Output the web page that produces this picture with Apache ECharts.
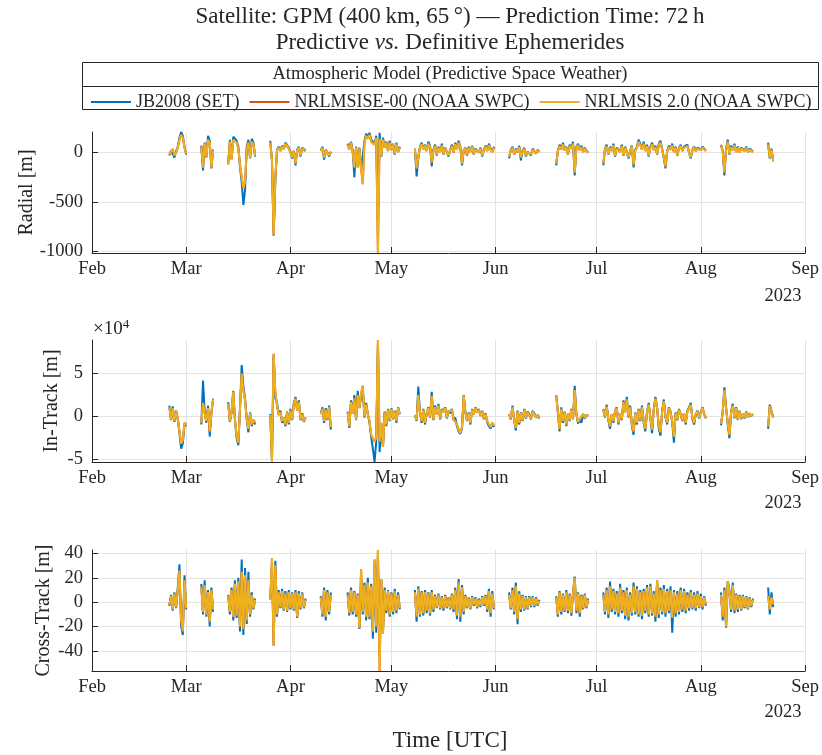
<!DOCTYPE html>
<html><head><meta charset="utf-8">
<script src="https://cdn.jsdelivr.net/npm/echarts@6/dist/echarts.min.js"></script>
<style>html,body{margin:0;padding:0;background:#fff}#c{width:822px;height:755px}</style>
</head><body><div id="c"></div>
<script>
const monthLabels = ['Feb','Mar','Apr','May','Jun','Jul','Aug','Sep'];
const seriesNames = ['JB2008 (SET)','NRLMSISE-00 (NOAA SWPC)','NRLMSIS 2.0 (NOAA SWPC)'];
// segment start, in days after 1 Feb 2023; samples every half day
const segStartDays = [23, 32.5, 40.5, 53, 68, 76, 96, 124, 138, 152, 187, 201];
const stepDays = 0.5;

// Radial [m]
const radialJB2008 = [
 [-30, 20, 40, -50, 10, 60, 150, 208, 170, 60, -20],
 [70, -180, 100, -50, 170, 120, -160, 30],
 [-100, 130, -60, 160, 150, 120, 60, -150, -300, -530, -380, 60, 130, -60, 140, 100, -40],
 [120, -90, -840, -290, 30, 60, 20, 70, 40, 100, 80, 50, 10, -60, 20, -130, 30, 60, -40, 50, 40, 20],
 [20, 60, -70, 30, 50, -40, 10],
 [90, 40, 110, 20, -250, 60, -130, 50, -180, -200, 120, 190, 160, 200, 130, 150, 90, 170, -700, 200, -40, 150, 60, 110, 20, 120, 30, 90, -20, 100, 10, 60],
 [40, -240, -60, 60, 100, 40, 80, 20, 110, 70, -140, 30, 80, -30, 60, 10, 90, -20, 50, 70, -40, 30, 80, 0, 100, 40, 120, 60, -130, 20, 50, -30, 60, 10, 70, -20, 40, 60, 0, 50, -40, 30, 70, 20, 90, 40, 10, 60],
 [-60, 30, 60, -20, 40, 0, 70, -80, 20, 50, -40, 10, 30, -30, 40, 20, -10, 30, 10],
 [-130, 20, 80, 40, 100, 30, 60, -20, 80, 50, 110, -230, 60, 90, 30, 70, 10, 50, 20, 0],
 [-130, 40, 80, -20, 60, 20, 90, -40, 50, 70, 10, 80, -30, 60, 40, -60, 20, 70, -150, 30, 60, 130, 90, 40, 110, 20, 80, -40, 60, 100, 30, 70, -20, 90, 120, 40, -60, -160, 20, 70, 40, 90, 10, 60, -30, 50, 80, 20, 60, 40, 80, 0, -60, 30, 60, 20, 50, 70, 30, 60, 40, 20],
 [80, 20, -230, 40, 130, -20, 70, 30, 90, 10, 60, 0, 50, 70, 20, 60, 10, 40, 20, 10],
 [100, -60, 40, -80]
];
const radialNRLMSIS20 = [
 [-20, 10, 35, -30, 5, 50, 130, 180, 150, 50, -10],
 [60, -150, 90, -40, 130, 100, -150, 20],
 [-120, 110, -70, 130, 120, 100, 40, -120, -250, -360, -300, 40, 100, -50, 110, 80, -30],
 [100, -70, -830, -250, 20, 50, 15, 60, 35, 90, 70, 40, 0, -50, 15, -110, 25, 50, -30, 40, 35, 15],
 [15, 50, -50, 25, 40, -30, 5],
 [80, 30, 100, 10, -150, 50, -150, 40, -160, -320, 100, 170, 140, 180, 110, 130, 80, 150, -1015, 140, -30, 130, 50, 100, 15, 100, 25, 80, -10, 90, 5, 50],
 [35, -160, -40, 50, 85, 30, 70, 15, 90, 60, -100, 25, 65, -20, 50, 5, 75, -15, 40, 60, -30, 25, 65, 0, 85, 30, 100, 50, -110, 15, 40, -20, 50, 5, 60, -15, 30, 50, 0, 40, -30, 25, 60, 15, 75, 30, 5, 50],
 [-40, 20, 50, -15, 30, 0, 55, -50, 15, 40, -30, 5, 25, -20, 30, 15, -5, 25, 5],
 [-110, 15, 65, 30, 85, 25, 50, -15, 65, 40, 90, -200, 50, 75, 25, 55, 5, 40, 15, 0],
 [-110, 30, 65, -15, 50, 15, 75, -30, 40, 60, 5, 65, -25, 50, 30, -50, 15, 60, -120, 25, 50, 110, 75, 30, 90, 15, 65, -30, 50, 85, 25, 55, -15, 75, 100, 30, -50, -140, 15, 55, 30, 75, 5, 50, -25, 40, 65, 15, 50, 30, 65, 0, -50, 25, 50, 15, 40, 55, 25, 50, 30, 15],
 [70, 15, -200, 30, 110, -15, 55, 25, 75, 5, 50, 0, 40, 55, 15, 50, 5, 30, 15, 5],
 [80, -50, 30, -90]
];
const radialNRLMSISE00 = radialNRLMSIS20;

// In-Track [x 10^4 m]
const inTrackJB2008 = [
 [1.2, -0.5, 1.1, -0.7, 0.6, -0.4, -2.0, -3.8, -3.2, -1.0, -1.2],
 [-1.0, 4.1, 0.5, -0.8, 1.2, -2.4, 0.3, 2.0],
 [1.6, -0.7, 0.5, 2.9, -0.5, -2.6, -3.4, 1.0, 5.9, 3.5, 2.0, -0.4, -1.9, 0.4, -1.2, -0.5, -1.0],
 [0.2, -5.0, 7.0, 2.0, 1.5, 0.2, 0.6, -0.8, -0.3, -1.2, 0.5, -1.0, 0.8, -0.5, 1.5, 2.2, 0.8, 1.8, -0.5, 0.3, -0.7, -0.2],
 [0.3, 1.0, -0.8, 0.9, -0.5, 1.2, -1.6],
 [0.5, -1.4, 1.8, 0.3, 2.4, -0.5, 2.9, 1.0, 2.2, 3.0, -0.2, 1.5, 0.2, -0.8, -2.5, -3.8, -5.35, -3.0, 8.2, -4.2, -1.0, -3.6, 0.5, -1.2, 0.8, -0.6, 0.9, -0.4, 0.6, -0.8, 1.0, 0.2],
 [0.1, -0.6, 3.4, 0.5, -0.8, 0.8, -1.0, 0.3, 1.0, -0.2, 2.8, -0.5, 1.2, 0.2, 1.4, -0.4, 0.8, 0.5, 1.0, -0.3, 0.6, 0.3, 0.8, -0.5, -0.2, -1.2, -1.8, -2.1, -1.5, 2.4, 0.5, -0.6, 0.4, -1.0, 0.8, 0.2, 1.0, 0.5, 0.8, 0.0, 0.6, -0.4, 0.3, -0.8, -1.2, -1.5, -0.9, -1.3],
 [0.2, -0.4, 1.2, -0.5, -1.7, 0.6, -1.0, 0.4, -0.6, 0.8, -0.3, 0.5, 0.2, -0.4, 0.6, 0.3, -0.2, 0.1, -0.3],
 [2.4, 0.5, -1.8, 1.0, -0.8, 0.5, -1.2, 0.3, -0.6, 0.8, -0.4, 3.5, 0.2, -0.9, -0.5, -0.8, 0.2, -0.3, 0.1, 0.0],
 [0.8, -0.2, 1.3, -0.5, -1.5, 0.2, -0.8, 0.6, 1.0, -1.0, 0.3, -0.5, 1.8, 0.5, 2.2, -0.2, 1.2, -1.2, -2.2, 0.4, -1.0, 0.8, -0.6, 1.2, -0.8, -1.8, 0.5, 1.5, -0.3, -2.0, 0.8, 2.2, 1.0, -1.5, -2.3, 0.6, 1.9, -0.2, -1.0, 1.0, 0.5, -0.8, -3.1, 0.4, -0.5, 0.8, 0.2, -0.6, 0.3, -1.0, 0.6, 1.0, 1.5, -0.4, -1.0, 0.2, 0.6, -0.3, 0.5, 1.0, 0.2, -0.3],
 [-1.1, 0.5, 3.3, 1.0, -1.0, -2.6, 0.5, 1.4, -0.3, 1.0, -0.5, 0.6, -0.4, 0.3, -0.3, 0.5, -0.2, 0.3, 0.0, 0.2],
 [-1.5, 1.3, 0.6, -0.2]
];
const inTrackNRLMSIS20 = [
 [1.0, -0.4, 0.9, -0.6, 0.5, -0.3, -1.8, -3.2, -2.8, -0.8, -1.0],
 [-0.8, 1.5, 0.3, -0.6, 0.9, -1.8, 0.4, 1.9],
 [1.4, -0.6, 0.4, 2.8, -0.4, -2.3, -3.1, 0.8, 4.9, 3.0, 1.8, -0.3, -1.5, 0.3, -1.0, -0.4, -0.8],
 [0.1, -5.3, 7.2, 2.8, 1.2, 0.1, 0.4, -0.6, -0.2, -1.0, 0.4, -0.8, 0.6, -0.4, 1.3, 2.0, 0.6, 1.6, -0.4, 0.2, -0.6, -0.2],
 [0.2, 0.8, -0.6, 0.7, -0.4, 1.0, -1.3],
 [0.4, -1.2, 1.6, 0.3, 2.0, -0.4, 2.4, 0.9, 2.6, 3.5, -0.1, 1.3, 0.2, -0.6, -2.2, -2.6, -3.0, -2.5, 8.8, -3.0, -0.8, -3.6, 0.4, -1.0, 0.7, -0.5, 0.8, -0.3, 0.5, -0.6, 0.9, 0.2],
 [0.1, -0.5, 2.4, 0.4, -0.6, 0.7, -0.8, 0.3, 0.9, -0.1, 2.3, -0.4, 1.0, 0.2, 1.2, -0.3, 0.7, 0.4, 0.9, -0.2, 0.5, 0.3, 0.7, -0.4, -0.2, -1.0, -1.6, -2.0, -1.3, 2.3, 0.4, -0.5, 0.3, -0.8, 0.7, 0.2, 0.9, 0.4, 0.7, 0.0, 0.5, -0.3, 0.2, -0.6, -1.0, -1.3, -0.8, -1.1],
 [0.2, -0.3, 1.0, -0.4, -1.4, 0.5, -0.8, 0.3, -0.5, 0.7, -0.2, 0.4, 0.2, -0.3, 0.5, 0.3, -0.2, 0.1, -0.2],
 [2.4, 0.4, -1.5, 0.8, -0.6, 0.4, -1.0, 0.3, -0.5, 0.7, -0.3, 3.0, 0.2, -0.7, -0.4, -0.6, 0.2, -0.2, 0.1, 0.0],
 [0.7, -0.1, 1.1, -0.4, -1.2, 0.2, -0.6, 0.5, 0.9, -0.8, 0.3, -0.4, 1.6, 0.4, 1.9, -0.1, 1.0, -1.0, -1.8, 0.3, -0.8, 0.7, -0.5, 1.0, -0.6, -1.5, 0.4, 1.3, -0.2, -1.6, 0.7, 2.0, 0.9, -1.2, -1.9, 0.5, 1.7, -0.1, -0.8, 0.9, 0.4, -0.6, -2.4, 0.3, -0.4, 0.7, 0.2, -0.5, 0.3, -0.8, 0.5, 0.9, 1.3, -0.3, -0.8, 0.2, 0.5, -0.2, 0.4, 0.9, 0.2, -0.2],
 [-0.9, 0.4, 3.0, 0.9, -0.8, -2.2, 0.4, 1.2, -0.2, 0.9, -0.4, 0.5, -0.3, 0.3, -0.2, 0.4, -0.2, 0.3, 0.0, 0.2],
 [-1.2, 1.1, 0.5, -0.1]
];
const inTrackNRLMSISE00 = inTrackNRLMSIS20;

// Cross-Track [m]
const crossTrackJB2008 = [
 [-3, 6, -7, 8, -5, 12, 31, -20, -27, 22, -6],
 [15, -10, 18, -12, 10, -20, 12, -8],
 [6, -10, 12, -15, 18, -13, 20, -24, 35, -27, 28, -18, 25, -12, 8, -6, 3],
 [3, 30, -35, 34, -12, 10, -5, 11, -7, 9, -8, 10, -6, 8, -7, 10, -13, 9, -6, 8, -5, 3],
 [5, -12, 12, -15, 10, -10, 8],
 [8, -11, 12, -10, 9, -12, 7, -22, 18, -10, 16, -15, 20, -14, 15, -30, 32, -25, 38, -45, 18, -24, 12, -9, 10, -12, 8, -10, 11, -9, 8, -6],
 [10, -16, 13, -12, 9, -11, 10, -9, 8, -11, 10, -8, 6, -5, 7, -6, 5, -7, 6, -5, 4, -6, 7, -8, 12, -14, 19, -16, 14, -10, 6, -5, 4, -6, 5, -3, 4, -5, 3, -4, 5, -3, 6, -8, 11, -12, 9, -6],
 [8, -6, 12, -10, 16, -18, 9, -8, 6, -7, 5, -6, 5, -4, 5, -4, 4, -3, 2],
 [5, -12, 9, -10, 7, -8, 10, -9, 7, -11, 8, 21, -9, 8, -12, 6, -6, 7, -5, 3],
 [8, -10, 12, -13, 17, -8, 11, -10, 9, -12, 15, -9, 10, -14, 12, -15, 8, -11, 16, -10, 13, -12, 10, -14, 11, -9, 14, -12, 15, -11, 9, -16, 17, -13, 12, -10, 14, -12, 11, -9, 13, -25, 10, -12, 9, -10, 12, -8, 11, -9, 8, -7, 10, -6, 8, -7, 9, -5, 7, -6, 5, -3],
 [8, -15, 12, -21, 17, 10, -8, 16, -9, 7, -8, 6, -7, 6, -5, 5, -6, 4, -4, 3],
 [12, -10, 8, -4]
];
const crossTrackNRLMSIS20 = [
 [-2, 5, -6, 7, -4, 10, 26, -15, -24, 18, -5],
 [12, -8, 14, -10, 8, -16, 10, -6],
 [5, -8, 10, -12, 15, -11, 17, -20, 25, -22, 22, -15, 18, -10, 6, -5, 2],
 [2, 36, -36, 30, -10, 8, -4, 9, -6, 7, -7, 8, -5, 7, -6, 8, -12, 7, -5, 7, -4, 2],
 [4, -10, 10, -12, 8, -8, 6],
 [6, -9, 10, -8, 8, -10, 6, -21, 27, -8, 14, -12, 16, -12, 13, -24, 35, -20, 42.8, -56.5, 19, -26, 10, -7, 9, -10, 7, -8, 9, -7, 6, -5],
 [8, -12, 11, -10, 8, -9, 8, -7, 7, -9, 8, -6, 5, -4, 6, -5, 4, -5, 5, -4, 3, -5, 6, -6, 10, -11, 16, -12, 12, -8, 5, -4, 3, -5, 4, -2, 3, -4, 2, -3, 4, -2, 5, -6, 9, -9, 7, -5],
 [6, -5, 10, -8, 13, -14, 7, -6, 5, -6, 4, -5, 4, -3, 4, -3, 3, -2, 1],
 [4, -10, 8, -8, 6, -7, 8, -7, 6, -9, 7, 20, -7, 7, -9, 5, -5, 6, -4, 2],
 [6, -8, 10, -10, 13, -6, 9, -8, 7, -9, 12, -7, 8, -11, 10, -12, 6, -9, 13, -8, 11, -10, 8, -11, 9, -7, 12, -10, 13, -9, 7, -12, 18, -10, 10, -8, 11, -9, 9, -7, 10, -13, 8, -9, 7, -8, 10, -6, 9, -7, 6, -5, 8, -5, 6, -5, 7, -4, 5, -4, 4, -2],
 [6, -12, 10, -20, 17, 8, -6, 14, -7, 6, -6, 5, -6, 5, -4, 4, -5, 3, -3, 2],
 [5, -6, 4, -2]
];
const crossTrackNRLMSISE00 = crossTrackNRLMSIS20;

const radialTicks = [-1000, -500, 0];
const inTrackTicks = [-5, 0, 5];
const crossTrackTicks = [-40, -20, 0, 20, 40];

const DAY = 86400000;
const T0 = Date.UTC(2023, 1, 1);
const monthTicks = monthLabels.map((m, i) => Date.UTC(2023, 1 + i, 1));

function build(segs) {
  const out = [];
  segs.forEach((seg, k) => {
    if (k > 0) out.push([T0 + (segStartDays[k] - 0.25) * DAY, '-']);
    seg.forEach((v, i) => out.push([T0 + (segStartDays[k] + i * stepDays) * DAY, v]));
  });
  return out;
}

const FONT = '"Liberation Serif", "DejaVu Serif", serif';
const TXT = '#262626';
const colors = ['#0072BD', '#D95319', '#EDB120'];

const grids = [
  {left: 92, right: 14.5, top: 132, height: 121},
  {left: 92, right: 14.5, top: 340, height: 122},
  {left: 92, right: 14.5, top: 550, height: 121}
];

function xAx(i) {
  return {
    type: 'value', gridIndex: i, min: T0, max: Date.UTC(2023, 8, 1),
    axisLine: {show: true, onZero: false, lineStyle: {color: TXT, width: 1}},
    axisTick: {show: true, inside: true, length: 6, lineStyle: {color: TXT}, customValues: monthTicks},
    axisLabel: {customValues: monthTicks, color: TXT, fontFamily: FONT, fontSize: 18.5, margin: 7,
      formatter: v => monthLabels[new Date(v).getUTCMonth() - 1]},
    splitLine: {show: true, lineStyle: {color: '#e3e3e3', width: 1}}
  };
}
function yAx(i, min, max, ticks, name, gap) {
  return {
    type: 'value', gridIndex: i, min: min, max: max,
    name: name, nameLocation: 'middle', nameGap: gap, nameMoveOverlap: false,
    nameTextStyle: {fontFamily: FONT, fontSize: 20, color: TXT},
    axisLine: {show: true, lineStyle: {color: TXT, width: 1}},
    axisTick: {show: true, inside: true, length: 6, lineStyle: {color: TXT}, customValues: ticks},
    axisLabel: {customValues: ticks, color: TXT, fontFamily: FONT, fontSize: 18.5, margin: 9,
      formatter: v => String(v)},
    splitLine: {show: true, lineStyle: {color: '#e3e3e3', width: 1}}
  };
}

const panels = [
  [radialJB2008, radialNRLMSISE00, radialNRLMSIS20],
  [inTrackJB2008, inTrackNRLMSISE00, inTrackNRLMSIS20],
  [crossTrackJB2008, crossTrackNRLMSISE00, crossTrackNRLMSIS20]
];
const series = [];
panels.forEach((p, gi) => {
  p.forEach((segs, si) => {
    series.push({
      type: 'line', name: seriesNames[si], xAxisIndex: gi, yAxisIndex: gi,
      data: build(segs), showSymbol: false, symbol: 'none', connectNulls: false,
      lineStyle: {color: colors[si], width: 2}, itemStyle: {color: colors[si]},
      emphasis: {disabled: true}, z: 2 + si
    });
  });
});

function txt(x, y, text, size) {
  return {type: 'text', x: x, y: y, silent: true,
    style: {text: text, font: size + 'px ' + FONT, fill: TXT,
      align: 'center', verticalAlign: 'middle', textAlign: 'center', textVerticalAlign: 'middle'}};
}

const chart = echarts.init(document.getElementById('c'), null, {renderer: 'canvas'});
chart.setOption({
  animation: false,
  backgroundColor: '#fff',
  grid: grids,
  xAxis: [xAx(0), xAx(1), xAx(2)],
  yAxis: [
    yAx(0, -1015, 208, radialTicks, 'Radial [m]', 55),
    yAx(1, -5.35, 8.8, inTrackTicks, 'In-Track [m]', 30),
    yAx(2, -56.5, 42.8, crossTrackTicks, 'Cross-Track [m]', 38)
  ],
  legend: {
    data: seriesNames, left: 86, top: 88, icon: 'rect', itemWidth: 40, itemHeight: 2, itemGap: 10,
    textStyle: {fontFamily: FONT, fontSize: 18, color: TXT}, selectedMode: false
  },
  graphic: [
    txt(450, 17, 'Satellite: GPM (400\u2009km, 65\u2009\u00b0) \u2014 Prediction Time: 72\u2009h', 23),
    {type: 'text', x: 450, y: 43, silent: true, style: {
      text: '{a|Predictive }{i|vs.}{a| Definitive Ephemerides}',
      rich: {a: {fontFamily: FONT, fontSize: 23, fill: TXT, color: TXT}, i: {fontFamily: FONT, fontSize: 23, fontStyle: 'italic', fill: TXT, color: TXT}},
      align: 'center', verticalAlign: 'middle', textAlign: 'center', textVerticalAlign: 'middle'}},
    {type: 'rect', silent: true, shape: {x: 82.5, y: 62.5, width: 736, height: 47}, style: {fill: 'none', stroke: '#262626', lineWidth: 1}},
    {type: 'line', silent: true, shape: {x1: 82.5, y1: 86.5, x2: 818.5, y2: 86.5}, style: {stroke: '#262626', lineWidth: 1}},
    txt(450, 74, 'Atmospheric Model (Predictive Space Weather)', 18.5),
    {type: 'text', x: 93, y: 329, silent: true, style: {
      text: '{a|\u00d710}{s|4}', rich: {a: {fontFamily: FONT, fontSize: 19, fill: TXT, color: TXT}, s: {fontFamily: FONT, fontSize: 13, fill: TXT, color: TXT, verticalAlign: 'top', padding: [0, 0, 9, 0]}},
      align: 'left', verticalAlign: 'middle', textAlign: 'left', textVerticalAlign: 'middle'}},
    txt(783, 296, '2023', 18.5),
    txt(783, 503, '2023', 18.5),
    txt(783, 712, '2023', 18.5),
    txt(450, 741, 'Time [UTC]', 23)
  ],
  series: series
});
</script>
</body></html>
